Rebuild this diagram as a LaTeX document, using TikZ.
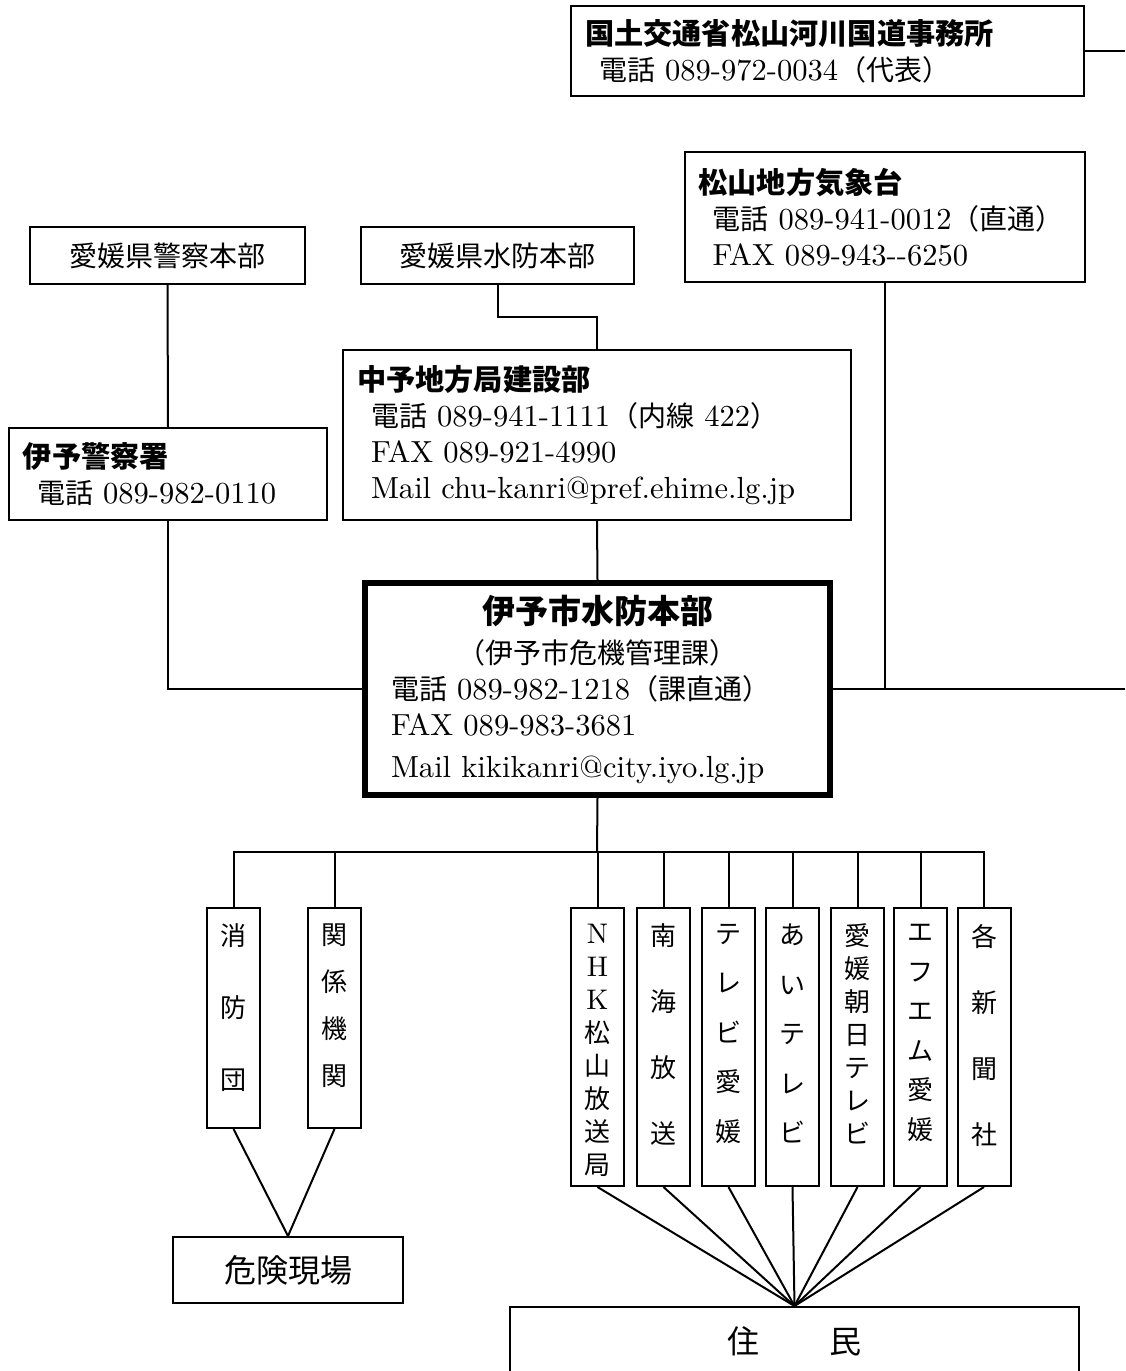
\documentclass[tikz,border=0pt]{standalone}
\usepackage{fontspec}
\setmainfont{lmroman10-regular.otf}[Scale=1.09]
\newfontfamily\jp{Noto Sans CJK JP}
\newcommand\hd[1]{{\fontsize{14.6}{18}\selectfont\bfseries\jp #1}}

\begin{document}
\begin{tikzpicture}[x=0.5pt,y=-0.5pt,line width=1pt,
  box/.style={draw, inner sep=0pt, font=\jp\fontsize{14}{18}\selectfont},
  info/.style={draw, align=left, inner xsep=7pt, inner ysep=0pt, font=\fontsize{14}{18}\selectfont},
  col/.style={draw, inner sep=0pt, minimum width=26.5pt},
  vtext/.style={font=\jp\fontsize{13}{#1}\selectfont, align=center, inner sep=0pt, anchor=north, yshift=-8pt}]

\useasboundingbox (0,0) rectangle (1125,1371);
\clip (0,0) rectangle (1125,1371);
\coordinate (rim) at (1125,0);
\coordinate (bus) at (597,852);

\node[info, text width=242.5pt, minimum height=45pt] (kokudo) at (827.5,51)
  {\hd{国土交通省松山河川国道事務所}\\\hspace*{7pt}{\jp 電話} 089-972-0034{\jp （代表）}};

\node[info, text width=186pt, minimum height=65pt] (kishou) at (884.5,217)
  {\hd{松山地方気象台}\\\hspace*{7pt}{\jp 電話} 089-941-0012{\jp （直通）}\\\hspace*{7pt}FAX 089-943-{}-6250};

\node[box, minimum width=137.5pt, minimum height=28.5pt] (kenkei) at (167.5,255.5) {愛媛県警察本部};

\node[box, minimum width=136.5pt, minimum height=28.5pt] (kensuibou) at (497.5,255.5) {愛媛県水防本部};

\node[info, text width=240pt, minimum height=85pt] (chuyo) at (597,435)
  {\hd{中予地方局建設部}\\\hspace*{7pt}{\jp 電話} 089-941-1111{\jp （内線} 422{\jp ）}\\\hspace*{7pt}FAX 089-921-4990\\\hspace*{7pt}Mail chu-kanri@pref.ehime.lg.jp};

\node[info, text width=145pt, minimum height=46pt] (iyokeisatsu) at (168,474)
  {\hd{伊予警察署}\\\hspace*{7pt}{\jp 電話} 089-982-0110};

\node[info, line width=3pt, inner xsep=13pt, text width=206.5pt, minimum height=106pt] (honbu) at (597.5,689)
  {\makebox[\linewidth]{\fontsize{16.5}{18}\selectfont\bfseries\jp 伊予市水防本部}\\[2pt]
   \makebox[\linewidth]{\jp （伊予市危機管理課）}\\
   {\jp 電話} 089-982-1218{\jp （課直通）}\\
   FAX 089-983-3681\\[3pt]
   Mail kikikanri@city.iyo.lg.jp};

\node[col, minimum height=110pt] (shoubou) at (233.5,1018) {};
\node[vtext=36pt] (shoubou-t) at (shoubou.north) {消\\防\\団};

\node[col, minimum height=110pt] (kankei) at (334.5,1018) {};
\node[vtext=23.5pt] (kankei-t) at (kankei.north) {関\\係\\機\\関};

\node[col, minimum height=139pt] (nhk) at (597.5,1047) {};
\node[vtext=16.5pt] (nhk-t) at (nhk.north) {{\rmfamily N}\\{\rmfamily H}\\{\rmfamily K}\\松\\山\\放\\送\\局};

\node[col, minimum height=139pt] (nankai) at (663.5,1047) {};
\node[vtext=33pt] (nankai-t) at (nankai.north) {南\\海\\放\\送};

\node[col, minimum height=139pt] (tvehime) at (728.5,1047) {};
\node[vtext=24.75pt] (tvehime-t) at (tvehime.north) {テ\\レ\\ビ\\愛\\媛};

\node[col, minimum height=139pt] (itv) at (792.5,1047) {};
\node[vtext=24.75pt] (itv-t) at (itv.north) {あ\\い\\テ\\レ\\ビ};

\node[col, minimum height=139pt] (eat) at (857.5,1047) {};
\node[vtext=16.5pt] (eat-t) at (eat.north) {愛\\媛\\朝\\日\\テ\\レ\\ビ};

\node[col, minimum height=139pt] (fm) at (920.5,1047) {};
\node[vtext=19.8pt] (fm-t) at (fm.north) {エ\\フ\\エ\\ム\\愛\\媛};

\node[col, minimum height=139pt] (shinbun) at (984,1047) {};
\node[vtext=33pt] (shinbun-t) at (shinbun.north) {各\\新\\聞\\社};

\node[box, minimum width=115pt, minimum height=33pt, font=\jp\fontsize{16}{18}\selectfont] (genba) at (288,1270) {危険現場};

\node[box, minimum width=284.5pt, minimum height=34pt, font=\jp\fontsize{16}{18}\selectfont] (jumin) at (794.5,1341) {住\hspace{35pt}民};

\draw (kokudo.east) -- (kokudo.east -| rim);
\draw (kenkei.south) -- (iyokeisatsu.north);
\draw (kensuibou.south) -- ++(0,32) -| (chuyo.north);
\draw (chuyo.south) -- (honbu.north);
\draw (iyokeisatsu.south) |- (honbu.west);
\draw (kishou.south) -- (kishou.south |- honbu.east);
\draw (honbu.east) -- (honbu.east -| rim);

\draw (honbu.south) -- (bus);
\draw (shoubou.north) |- (bus) -| (shinbun.north);
\draw (kankei.north) -- (kankei.north |- bus);
\draw (nhk.north) -- (nhk.north |- bus);
\draw (nankai.north) -- (nankai.north |- bus);
\draw (tvehime.north) -- (tvehime.north |- bus);
\draw (itv.north) -- (itv.north |- bus);
\draw (eat.north) -- (eat.north |- bus);
\draw (fm.north) -- (fm.north |- bus);

\draw (shoubou.south) -- (genba.north);
\draw (kankei.south) -- (genba.north);

\draw (nhk.south) -- (jumin.north);
\draw (nankai.south) -- (jumin.north);
\draw (tvehime.south) -- (jumin.north);
\draw (itv.south) -- (jumin.north);
\draw (eat.south) -- (jumin.north);
\draw (fm.south) -- (jumin.north);
\draw (shinbun.south) -- (jumin.north);
\end{tikzpicture}
\end{document}
